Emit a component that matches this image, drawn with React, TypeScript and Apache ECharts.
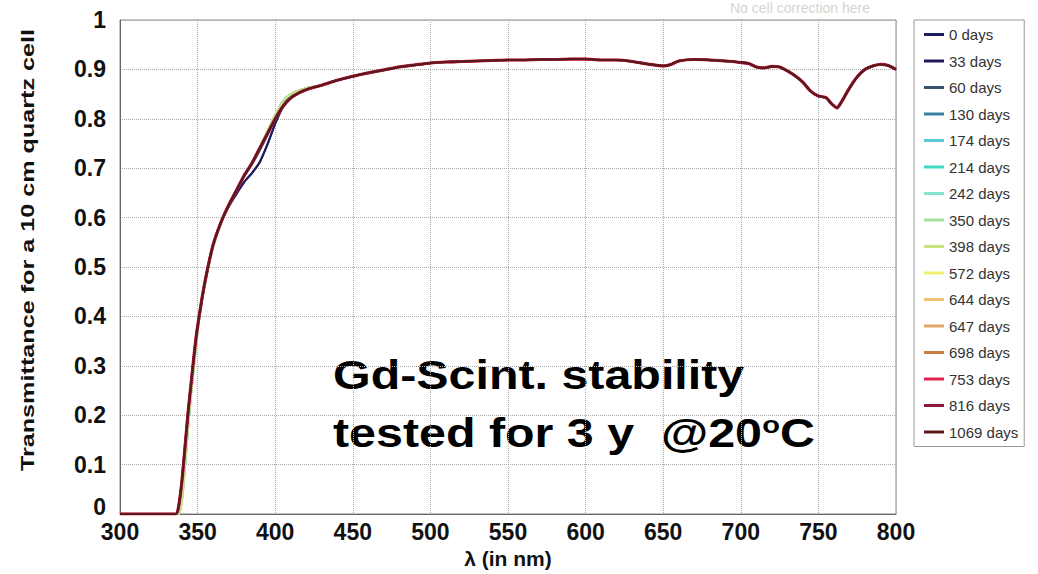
import React, { useEffect, useRef } from "react";
import * as echarts from "echarts";

// Legend entries (age of the Gd-loaded scintillator sample)
const ages = [
  "0 days", "33 days", "60 days", "130 days", "174 days", "214 days", "242 days", "350 days",
  "398 days", "572 days", "644 days", "647 days", "698 days", "753 days", "816 days", "1069 days",
];

const lineColors = [
  "#1b1f5e", "#221a5c", "#3a5272", "#3a80a2", "#5ccbd2", "#40d8c2", "#84e2ce", "#a8e0a2",
  "#cce27e", "#f0f070", "#f2c472", "#e2a462", "#c88042", "#e0204e", "#8a1a3a", "#5a1a1c",
];
const lineWidths = [2, 2, 2, 2, 2, 2, 2, 2, 2, 2, 2, 2, 2, 3.2, 2.6, 2];

// Absorption edge region (nm) and transmittance profiles
const waveRise = [300, 336, 338, 340, 342, 344, 346, 348, 350, 353, 356, 360, 365, 370, 375, 380, 385, 390, 395, 400, 405, 410, 415, 420];
const riseEarly = [0, 0, 0.02, 0.07, 0.14, 0.21, 0.27, 0.33, 0.38, 0.44, 0.49, 0.545, 0.59, 0.622, 0.648, 0.672, 0.69, 0.712, 0.748, 0.79, 0.824, 0.842, 0.852, 0.859];
const riseMid = [0, 0, 0.02, 0.07, 0.14, 0.21, 0.27, 0.33, 0.38, 0.44, 0.49, 0.545, 0.59, 0.625, 0.655, 0.684, 0.708, 0.736, 0.767, 0.8, 0.828, 0.845, 0.854, 0.86];
const riseGreen = [0, 0, 0, 0.03, 0.1, 0.18, 0.25, 0.31, 0.37, 0.435, 0.485, 0.54, 0.588, 0.625, 0.656, 0.686, 0.712, 0.742, 0.775, 0.808, 0.836, 0.85, 0.857, 0.862];
const riseLate = [0, 0, 0.02, 0.07, 0.14, 0.21, 0.27, 0.33, 0.38, 0.44, 0.49, 0.545, 0.59, 0.625, 0.655, 0.685, 0.71, 0.74, 0.77, 0.8, 0.825, 0.842, 0.852, 0.859];

// Which edge profile each measurement follows
const profileOf = [
  riseEarly, riseEarly, riseMid, riseMid, riseGreen, riseGreen, riseGreen, riseGreen,
  riseGreen, riseLate, riseLate, riseLate, riseLate, riseLate, riseLate, riseLate,
];

// Plateau region, common to all measurements
const waveTail = [430, 440, 450, 460, 470, 480, 490, 500, 510, 520, 530, 540, 550, 560, 570, 580, 590, 600, 610, 620, 630, 640, 650, 655, 660, 670, 680, 690, 700, 705, 710, 715, 720, 725, 730, 735, 740, 745, 750, 755, 758, 762, 765, 770, 775, 780, 785, 790, 795, 800];
const tailT = [0.868, 0.878, 0.886, 0.893, 0.899, 0.905, 0.909, 0.913, 0.915, 0.916, 0.917, 0.918, 0.919, 0.919, 0.92, 0.92, 0.921, 0.921, 0.919, 0.919, 0.916, 0.911, 0.907, 0.91, 0.917, 0.92, 0.919, 0.917, 0.914, 0.912, 0.905, 0.903, 0.906, 0.905, 0.897, 0.887, 0.874, 0.856, 0.846, 0.843, 0.832, 0.822, 0.835, 0.862, 0.885, 0.9, 0.907, 0.91, 0.908, 0.9];

const FONT = "'Liberation Sans', Arial, sans-serif";

export default function App() {
  const ref = useRef<HTMLDivElement>(null);

  useEffect(() => {
    if (!ref.current) return;
    const chart = echarts.init(ref.current, undefined, { renderer: "svg" });

    const series = ages.map((name, i) => {
      const rise = profileOf[i];
      const data: number[][] = [];
      waveRise.forEach((w, k) => data.push([w, rise[k]]));
      waveTail.forEach((w, k) => data.push([w, tailT[k]]));
      return {
        name,
        type: "line",
        data,
        symbol: "none",
        smooth: 0.2,
        lineStyle: { width: lineWidths[i], color: lineColors[i] },
        itemStyle: { color: lineColors[i] },
      };
    });

    chart.setOption({
      animation: false,
      backgroundColor: "#ffffff",
      grid: {
        left: 120,
        top: 20,
        width: 776,
        height: 494,
        show: true,
        borderColor: "#888",
        borderWidth: 1,
      },
      xAxis: {
        type: "value",
        min: 300,
        max: 800,
        interval: 50,
        name: "λ (in nm)",
        nameLocation: "middle",
        nameGap: 34,
        nameTextStyle: { fontFamily: FONT, fontWeight: "bold", fontSize: 21, color: "#111" },
        axisLine: { show: true, lineStyle: { color: "#666" } },
        axisTick: { show: false },
        axisLabel: { margin: 6, fontFamily: FONT, fontWeight: "bold", fontSize: 23, color: "#111" },
        splitLine: { show: true, lineStyle: { type: "dotted", color: "#aaa" } },
      },
      yAxis: {
        type: "value",
        min: 0,
        max: 1,
        interval: 0.1,
        axisLine: { show: true, lineStyle: { color: "#666" } },
        axisTick: { show: false },
        axisLabel: {
          margin: 14,
          fontFamily: FONT,
          fontWeight: "bold",
          fontSize: 23,
          color: "#111",
          // lift the bottom "0" clear of the first x label
          formatter: (v: number) => (v === 0 ? "{z|0}" : String(Math.round(v * 10) / 10)),
          rich: {
            z: { fontFamily: FONT, fontWeight: "bold", fontSize: 23, color: "#111", padding: [0, 0, 14, 0] },
          },
        },
        splitLine: { show: true, lineStyle: { type: "dotted", color: "#aaa" } },
      },
      legend: {
        orient: "vertical",
        left: 914,
        top: 20,
        padding: [7, 6, 7, 10],
        itemGap: 11.5,
        itemWidth: 20,
        itemHeight: 3,
        icon: "rect",
        backgroundColor: "#fff",
        borderColor: "#999",
        borderWidth: 1,
        borderRadius: 0,
        textStyle: { fontFamily: FONT, fontSize: 15, color: "#333", lineHeight: 14 },
        data: ages,
      },
      graphic: [
        {
          type: "text",
          x: 28,
          y: 250,
          rotation: Math.PI / 2,
          scaleX: 1.4,
          style: {
            text: "Transmittance for a 10 cm quartz cell",
            font: "bold 18px " + FONT,
            fill: "#111",
            align: "center",
            verticalAlign: "middle",
          },
        },
        {
          type: "text",
          x: 800,
          y: 1,
          style: {
            text: "No cell correction here",
            font: "14px " + FONT,
            fill: "#d4d4d4",
            align: "center",
            verticalAlign: "top",
          },
        },
        {
          type: "text",
          x: 333,
          y: 375,
          scaleX: 1.21,
          style: {
            text: "Gd-Scint. stability",
            font: "bold 40px " + FONT,
            fill: "#000",
            align: "left",
            verticalAlign: "middle",
          },
        },
        {
          type: "text",
          x: 333,
          y: 433,
          scaleX: 1.21,
          style: {
            text: "{a|tested for 3 y  @20}{s|o}{a|C}",
            fill: "#000",
            align: "left",
            verticalAlign: "middle",
            rich: {
              a: { font: "bold 40px " + FONT, fill: "#000" },
              s: { font: "bold 24px " + FONT, fill: "#000", verticalAlign: "top" },
            },
          },
        },
      ],
      series,
    });

    return () => chart.dispose();
  }, []);

  return (
    <div
      ref={ref}
      style={{ position: "fixed", left: 0, top: 0, width: 1038, height: 574 }}
    />
  );
}
